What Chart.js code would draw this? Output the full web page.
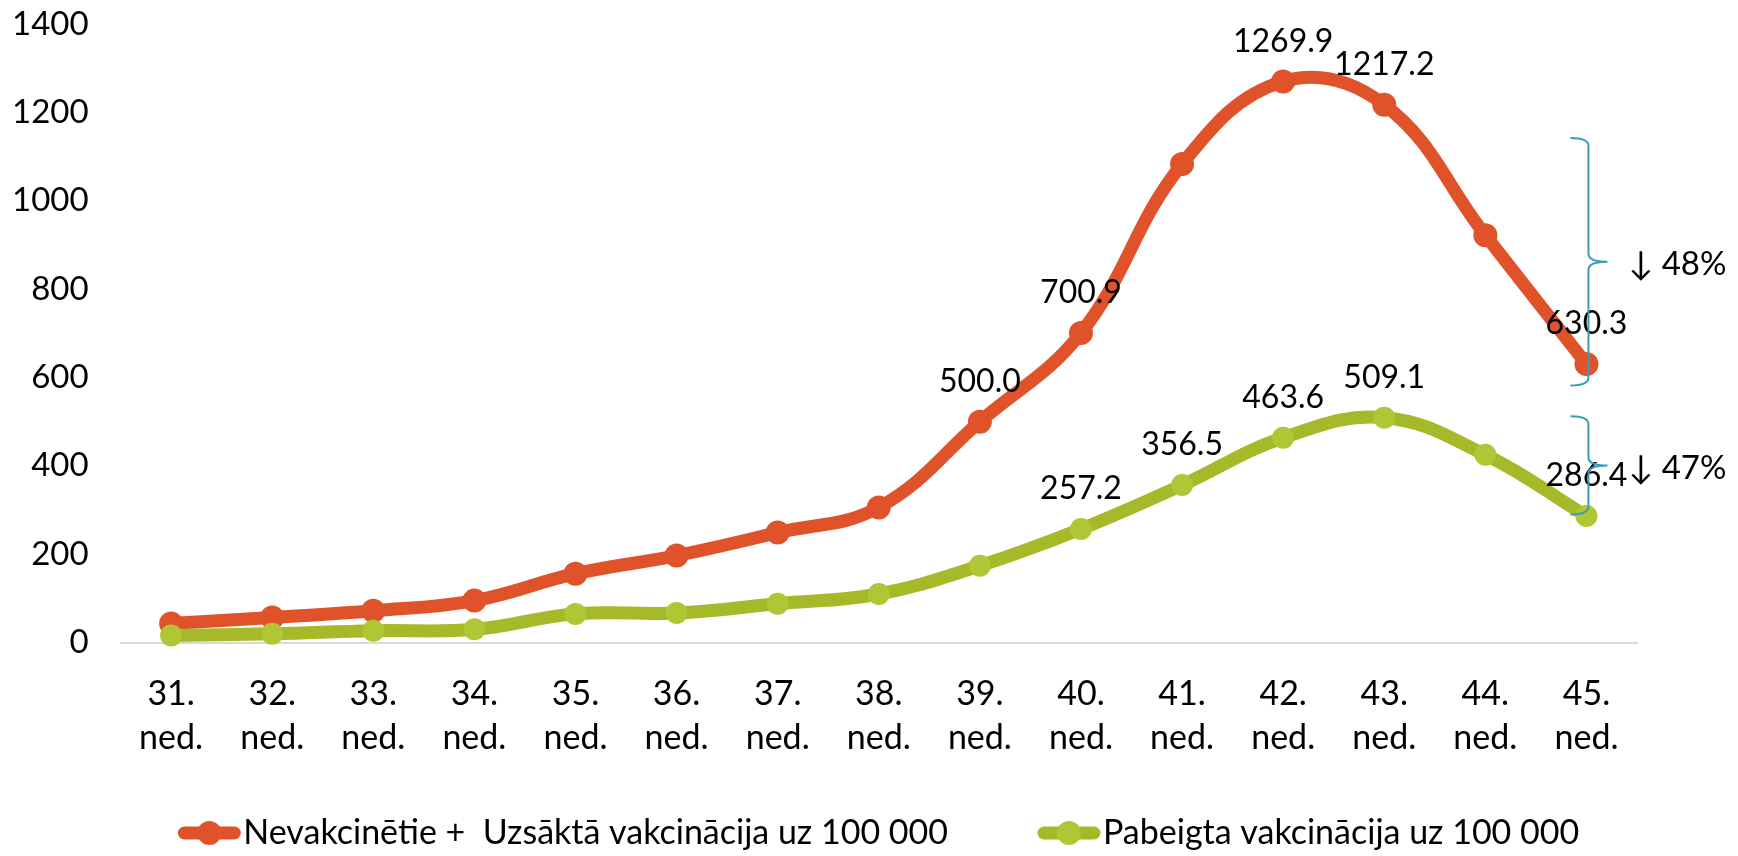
<!DOCTYPE html>
<html>
<head>
<meta charset="utf-8">
<script src="https://cdn.jsdelivr.net/npm/chart.js@4.4.0/dist/chart.umd.min.js"></script>
<style>
  html, body { margin: 0; padding: 0; background: #fff; }
  #wrap { width: 1738px; height: 856px; position: relative; }
</style>
</head>
<body>
<div id="wrap"><canvas id="grafiks"></canvas></div>
<script>
// nedēļas un vērtības uz 100 000
const nedelas = [['31.', 'ned.'], ['32.', 'ned.'], ['33.', 'ned.'], ['34.', 'ned.'], ['35.', 'ned.'],
                 ['36.', 'ned.'], ['37.', 'ned.'], ['38.', 'ned.'], ['39.', 'ned.'], ['40.', 'ned.'],
                 ['41.', 'ned.'], ['42.', 'ned.'], ['43.', 'ned.'], ['44.', 'ned.'], ['45.', 'ned.']];
const nevakcineti = [43, 57, 72, 95, 156, 197, 249, 306, 500.0, 700.9, 1083, 1269.9, 1217.2, 922, 630.3];
const pabeigta = [16, 20, 27, 30, 65, 67, 88, 110, 174, 257.2, 356.5, 463.6, 509.1, 425, 286.4];
// kuriem punktiem rāda vērtību
const nevakcinetiEtiketes = [8, 9, 11, 12, 14];
const pabeigtaEtiketes = [9, 10, 11, 12, 14];
const yMin = 0, yMax = 1400, ySolis = 200;
// iekavas labajā pusē: no, līdz, teksts
const iekavuNo = [1142, 512];
const iekavuLidz = [582, 290];
const iekavuTeksti = ['\u2193 48%', '\u2193 47%'];

const ORANZS = '#e0532a';
const ZALS = '#a5b929';
const ZALS_PUNKTS = '#b1c634';
const FONTS = 'Lato, "Open Sans", sans-serif';

const datuEtiketes = {
    id: 'datuEtiketes',
    afterDatasetsDraw(chart) {
        const ctx = chart.ctx;
        ctx.save();
        ctx.font = '32px ' + FONTS;
        ctx.fillStyle = '#000';
        ctx.textAlign = 'center';
        ctx.textBaseline = 'middle';
        [nevakcinetiEtiketes, pabeigtaEtiketes].forEach((idx, di) => {
            const meta = chart.getDatasetMeta(di);
            idx.forEach(i => {
                const p = meta.data[i];
                const v = chart.data.datasets[di].data[i];
                ctx.fillText(v.toFixed(1), p.x, p.y - 40);
            });
        });
        ctx.restore();
    }
};

const iekavas = {
    id: 'iekavas',
    afterDraw(chart) {
        const ctx = chart.ctx;
        const x = chart.scales.x;
        const y = chart.scales.y;
        const xv = x.getPixelForValue(nedelas.length - 1) + 2;
        ctx.save();
        ctx.strokeStyle = '#3d9ab8';
        ctx.lineWidth = 2;
        iekavuNo.forEach((no, i) => {
            const top = y.getPixelForValue(no);
            const bottom = y.getPixelForValue(iekavuLidz[i]);
            const mid = (top + bottom) / 2;
            ctx.beginPath();
            ctx.moveTo(xv - 18, top);
            ctx.quadraticCurveTo(xv, top, xv, top + 8);
            ctx.lineTo(xv, mid - 8);
            ctx.quadraticCurveTo(xv, mid, xv + 19, mid);
            ctx.moveTo(xv + 19, mid);
            ctx.quadraticCurveTo(xv, mid, xv, mid + 8);
            ctx.lineTo(xv, bottom - 8);
            ctx.quadraticCurveTo(xv, bottom, xv - 18, bottom);
            ctx.stroke();

            ctx.font = '33px ' + FONTS;
            ctx.fillStyle = '#000';
            ctx.textAlign = 'left';
            ctx.textBaseline = 'middle';
            ctx.fillText(iekavuTeksti[i], xv + 40, mid + 3);
        });
        ctx.restore();
    }
};

const legenda = {
    id: 'legenda',
    afterDraw(chart) {
        const ctx = chart.ctx;
        const area = chart.chartArea;
        ctx.save();
        ctx.font = '34px ' + FONTS;
        const marker = 62, gap = 3, atstarpe = 90;
        const platumi = chart.data.datasets.map(ds => ctx.measureText(ds.label).width);
        const kopa = platumi.reduce((a, b) => a + b, 0) + 2 * (marker + gap) + atstarpe;
        let x = (area.left + area.right) / 2 - kopa / 2;
        const y = chart.height - 23;
        chart.data.datasets.forEach((ds, i) => {
            ctx.strokeStyle = ds.borderColor;
            ctx.lineWidth = 13;
            ctx.lineCap = 'round';
            ctx.beginPath();
            ctx.moveTo(x + 6, y);
            ctx.lineTo(x + marker - 6, y);
            ctx.stroke();
            ctx.fillStyle = ds.pointBackgroundColor;
            ctx.beginPath();
            ctx.arc(x + marker / 2, y, 12, 0, Math.PI * 2);
            ctx.fill();
            ctx.fillStyle = '#000';
            ctx.textAlign = 'left';
            ctx.textBaseline = 'middle';
            ctx.fillText(ds.label, x + marker + gap, y);
            x += marker + gap + platumi[i] + atstarpe;
        });
        ctx.restore();
    }
};

function zimetGrafiku() {
    const ctx = document.getElementById('grafiks').getContext('2d');
    new Chart(ctx, {
        type: 'line',
        data: {
            labels: nedelas,
            datasets: [{
                label: 'Nevakcinētie +  Uzsāktā vakcinācija uz 100 000',
                data: nevakcineti,
                borderColor: ORANZS,
                backgroundColor: ORANZS,
                pointBackgroundColor: ORANZS,
                pointBorderColor: ORANZS,
                borderWidth: 13,
                pointRadius: 12,
                pointBorderWidth: 0,
                tension: 0.4,
                clip: false,
                order: 2
            }, {
                label: 'Pabeigta vakcinācija uz 100 000',
                data: pabeigta,
                borderColor: ZALS,
                backgroundColor: ZALS,
                pointBackgroundColor: ZALS_PUNKTS,
                pointBorderColor: ZALS_PUNKTS,
                borderWidth: 13,
                pointRadius: 11,
                pointBorderWidth: 0,
                tension: 0.4,
                clip: false,
                order: 1
            }]
        },
        options: {
            responsive: true,
            maintainAspectRatio: false,
            animation: false,
            layout: {
                padding: { top: 0, left: -20, right: 101, bottom: 67 }
            },
            plugins: {
                legend: { display: false },
                tooltip: { enabled: false }
            },
            scales: {
                x: {
                    offset: true,
                    grid: { display: false, drawTicks: false },
                    border: { display: true, color: '#d9d9d9', width: 2 },
                    ticks: {
                        color: '#000',
                        padding: 29,
                        maxRotation: 0,
                        autoSkip: false,
                        font: { family: FONTS, size: 34, lineHeight: 1.3 }
                    }
                },
                y: {
                    min: yMin,
                    max: yMax,
                    grid: { display: false, drawTicks: false },
                    border: { display: false },
                    afterFit(scale) {
                        // tikai pusē augšējās etiķetes, bez ticks.padding
                        scale.paddingTop = 24;
                        scale.paddingBottom = 0;
                    },
                    ticks: {
                        stepSize: ySolis,
                        color: '#000',
                        padding: 32,
                        font: { family: FONTS, size: 33 },
                        callback: v => String(v)
                    }
                }
            }
        },
        plugins: [datuEtiketes, iekavas, legenda]
    });
}

document.addEventListener('DOMContentLoaded', () => {
    zimetGrafiku();
});
</script>
</body>
</html>
